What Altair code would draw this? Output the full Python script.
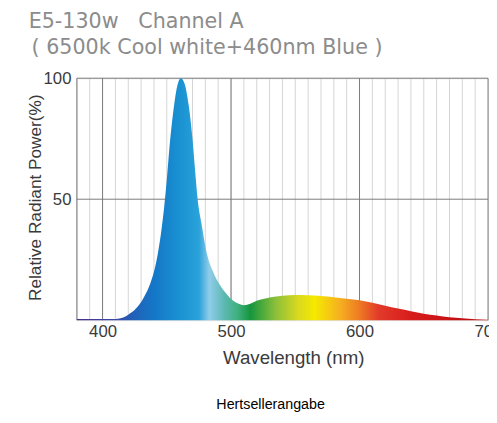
import altair as alt
import pandas as pd

# Spectrum data (wavelength nm, relative radiant power %)
wavelengths = [380, 390, 400, 410, 414, 420, 426, 431, 434, 437, 440, 443, 446, 448, 450, 452,
               455, 458, 461, 464, 467, 470, 472, 474, 477, 481, 486, 492, 497, 501, 506,
               510, 515, 520, 530, 540, 550, 560, 570, 580, 590, 600, 610, 620, 630, 640,
               650, 660, 670, 680, 690, 700]
power = [0.5, 0.5, 0.5, 0.5, 0.8, 2.3, 4.8, 8.3, 11.3, 15, 20, 27.5, 38, 47, 58, 71,
         86, 96.5, 100, 97.5, 89, 75, 62, 50, 40, 28, 20, 14, 10.5, 8.3, 6.8,
         6.2, 6.8, 8, 9.4, 10.1, 10.4, 10.3, 10, 9.5, 8.9, 8.2, 7.2, 6, 4.8, 3.7,
         2.7, 1.9, 1.2, 0.8, 0.4, 0.2]

minor_grid = list(range(390, 700, 10))
major_grid = [380, 400, 500, 600, 700]
h_grid = [50, 100]
x_ticks = [400, 500, 600, 700]
y_ticks = [50, 100]

title_line1 = "E5-130w\u00a0\u00a0\u00a0Channel A"
title_line2 = "(\u00a06500k Cool white+460nm Blue\u00a0)"
footer = "Hertsellerangabe"

spec_df = pd.DataFrame({"wl": wavelengths, "p": power})
minor_df = pd.DataFrame({"wl": minor_grid})
major_df = pd.DataFrame({"wl": major_grid})
h_df = pd.DataFrame({"v": h_grid})
one = pd.DataFrame({"a": [0]})

xscale = alt.Scale(domain=[380, 700], nice=False, zero=False)
yscale = alt.Scale(domain=[0, 100], nice=False)

x_axis = alt.Axis(
    values=x_ticks, ticks=False, domain=False, grid=False, labelFlush=False,
    labelOverlap=False, labelBound=False,
    labelFontSize=17, labelColor="#3a3a3a", labelFont="Liberation Sans",
    labelPadding=4, title="Wavelength (nm)", titleFontSize=19,
    titleFont="Liberation Sans", titleColor="#3a3a3a", titleFontWeight="normal",
    titleX=220, titleY=38, titleBaseline="middle", titleAnchor="middle",
)
y_axis = alt.Axis(
    values=y_ticks, ticks=False, domain=False, grid=False, labelFlush=False,
    labelOverlap=False, labelBound=False,
    labelFontSize=17, labelColor="#3a3a3a", labelFont="Liberation Sans",
    labelPadding=6, labelBaseline="middle",
    title="Relative Radiant Power(%)", titleFontSize=17.5,
    titleFont="Liberation Sans", titleColor="#3a3a3a", titleFontWeight="normal",
    titleX=-42, titleY=121, titleAngle=270, titleBaseline="middle",
    titleAlign="center",
)

stops = [
    (0.0, "#4a2f8c"), (0.094, "#3a48a8"), (0.14, "#2062b8"), (0.19, "#1478c8"),
    (0.25, "#1a92d2"), (0.297, "#2aa2da"), (0.322, "#90cdea"), (0.36, "#5ab8b0"),
    (0.39, "#40b080"), (0.422, "#15963e"), (0.484, "#8cc03a"), (0.537, "#d8d820"),
    (0.578, "#f5ea00"), (0.64, "#f5b020"), (0.6875, "#ee7a22"), (0.734, "#e23a2a"),
    (0.8125, "#d81c1c"), (1.0, "#b80a10"),
]
grad = alt.Gradient(
    gradient="linear",
    stops=[alt.GradientStop(offset=o, color=c) for o, c in stops],
    x1=0, x2=1, y1=0, y2=0,
)

minor = alt.Chart(minor_df).mark_rule(color="#d4d4d4", strokeWidth=1).encode(
    x=alt.X("wl:Q", scale=xscale, axis=x_axis)
)
major = alt.Chart(major_df).mark_rule(color="#7a7a7a", strokeWidth=1).encode(
    x=alt.X("wl:Q", scale=xscale, axis=x_axis)
)
hlines = alt.Chart(h_df).mark_rule(color="#7a7a7a", strokeWidth=1).encode(
    y=alt.Y("v:Q", scale=yscale, axis=y_axis)
)

area = alt.Chart(spec_df).mark_area(interpolate="monotone", fill=grad).encode(
    x=alt.X("wl:Q", scale=xscale, axis=x_axis),
    y=alt.Y("p:Q", scale=yscale, axis=y_axis),
)

t1 = alt.Chart(one).mark_text(
    align="left", baseline="alphabetic", fontSize=21, font="DejaVu Sans",
    color="#8c8c8c",
).encode(x=alt.value(-49), y=alt.value(-51), text=alt.value(title_line1))
t2 = alt.Chart(one).mark_text(
    align="left", baseline="alphabetic", fontSize=21, font="DejaVu Sans",
    color="#8c8c8c",
).encode(x=alt.value(-46), y=alt.value(-25), text=alt.value(title_line2))
t3 = alt.Chart(one).mark_text(
    align="center", baseline="middle", fontSize=14.5, font="Liberation Sans",
    color="#000000",
).encode(x=alt.value(197), y=alt.value(332), text=alt.value(footer))

chart = alt.layer(minor, major, hlines, area, t1, t2, t3).properties(
    width=418, height=246,
    autosize=alt.AutoSizeParams(type="none"),
    padding={"left": 70, "top": 68, "right": 1, "bottom": 93},
).configure_view(stroke=None).configure(background="white")

chart.save("out.html", embed_options={"renderer": "svg", "actions": False})
